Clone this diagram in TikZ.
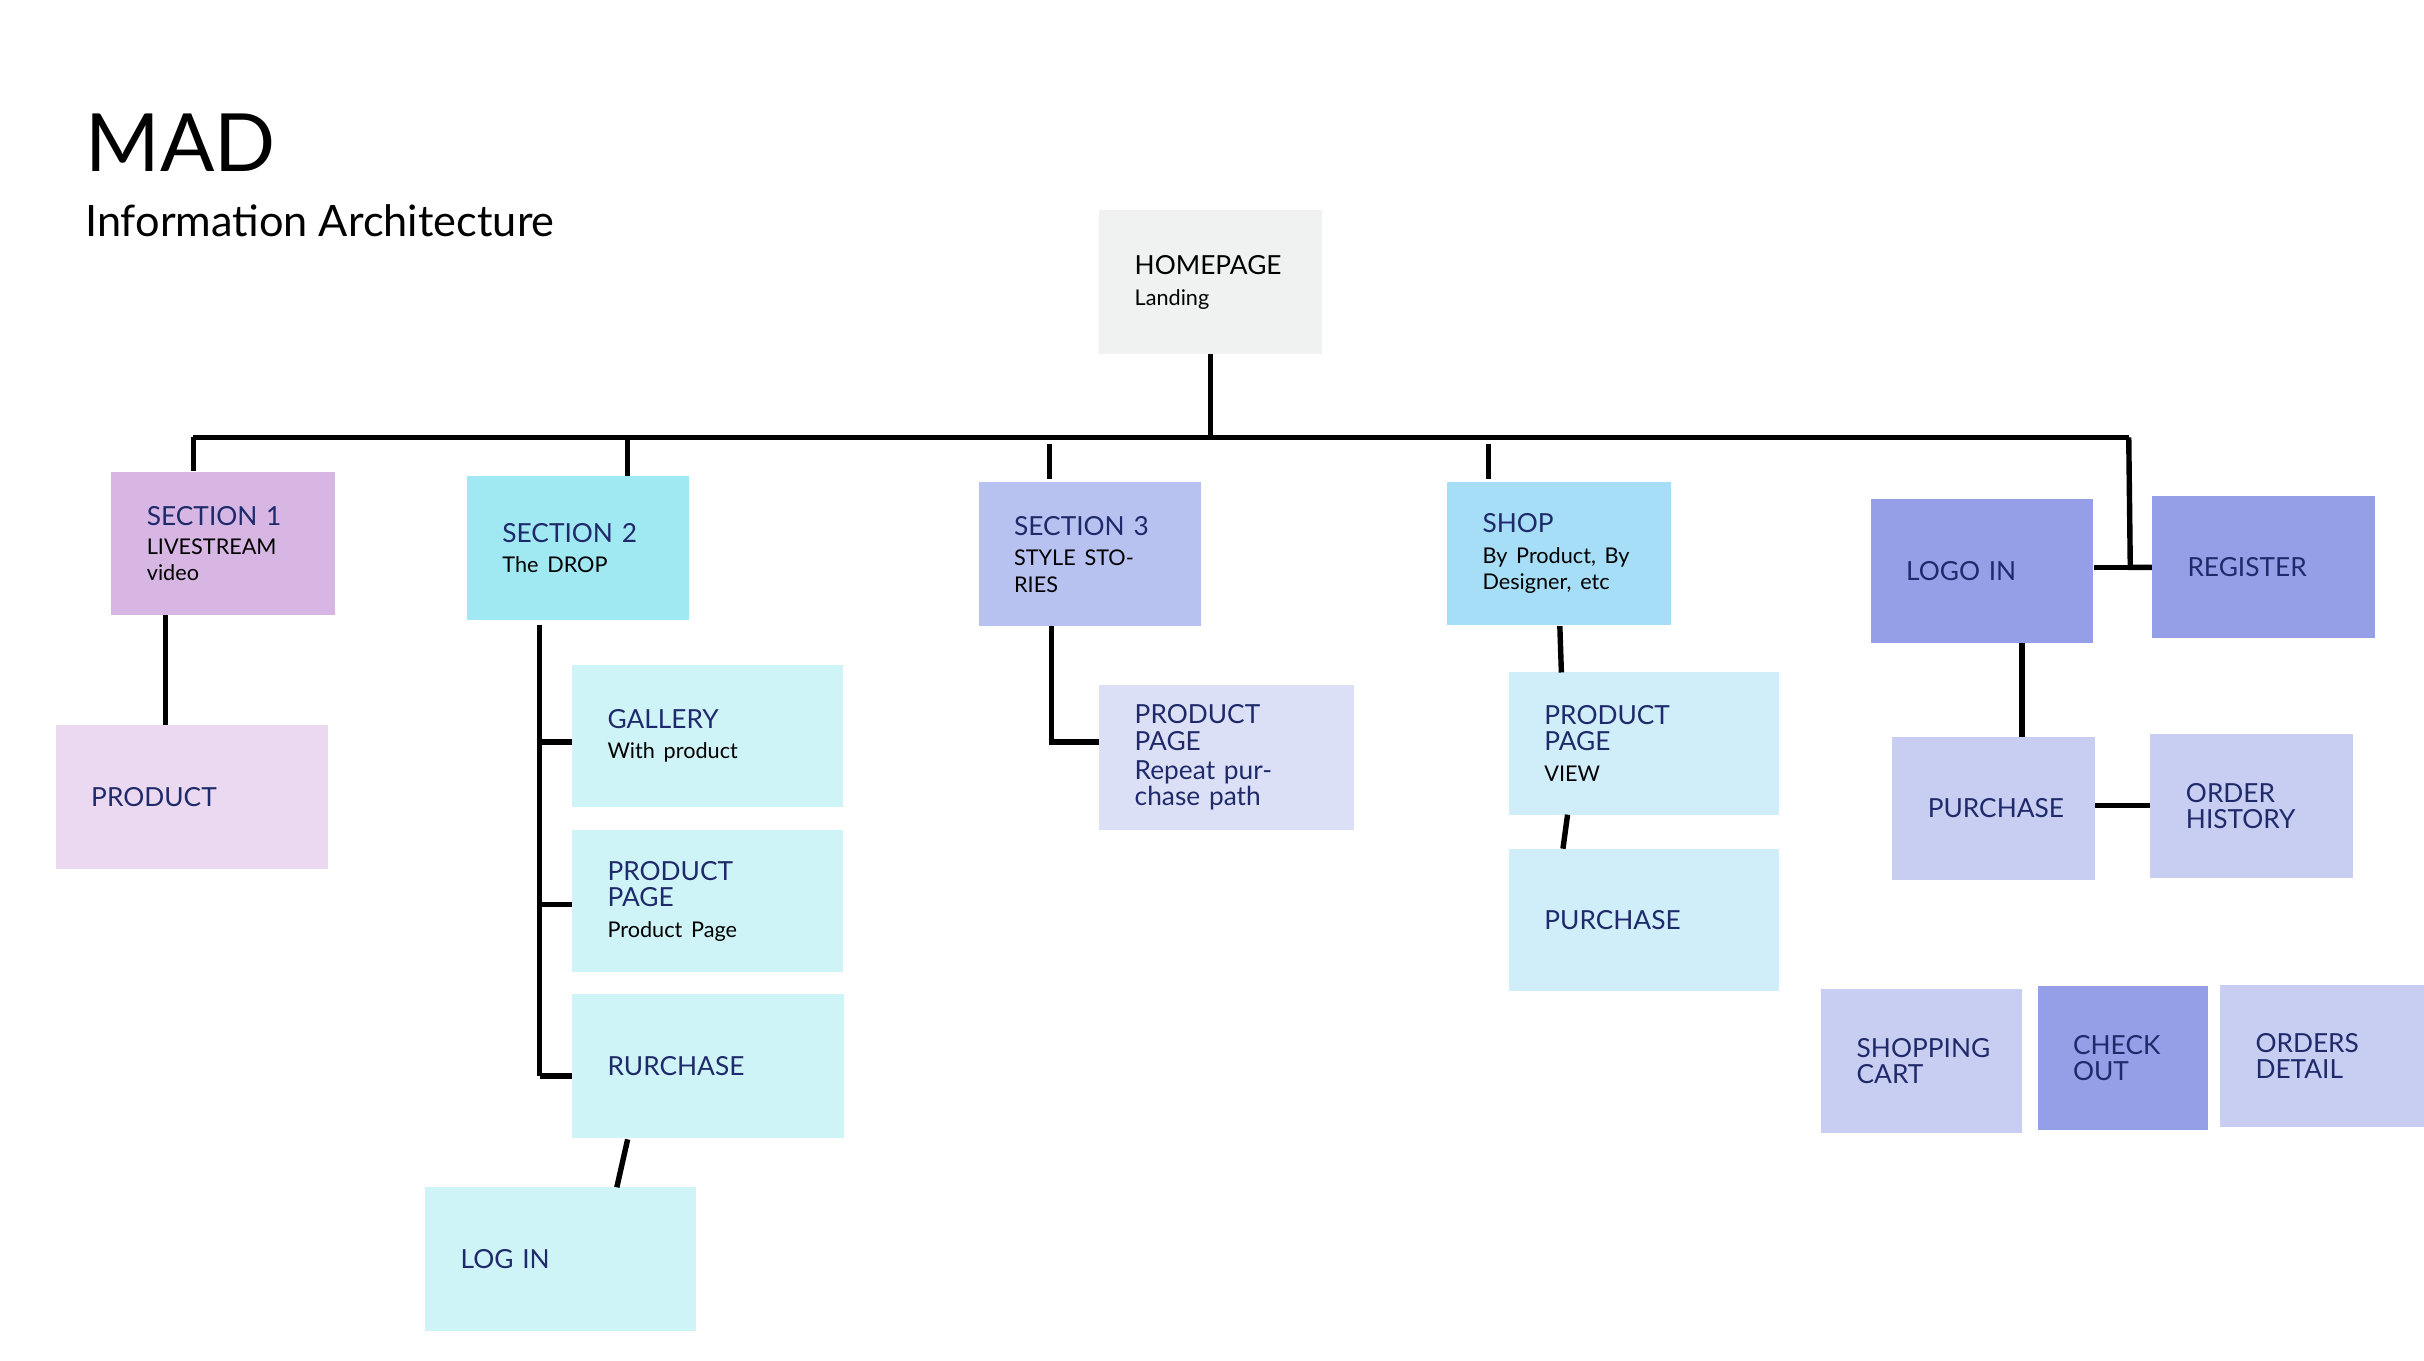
\documentclass[tikz,border=0pt]{standalone}
\usepackage{fontspec}
\setmainfont{Lato}
\definecolor{navy}{HTML}{1F2A6B}
\definecolor{cHome}{HTML}{F0F1F1}
\definecolor{cS1}{HTML}{D8B6E4}
\definecolor{cS1l}{HTML}{EAD9F0}
\definecolor{cS2}{HTML}{A0E8F2}
\definecolor{cS2l}{HTML}{CFF4F8}
\definecolor{cS3}{HTML}{B8C2F0}
\definecolor{cS3l}{HTML}{DCE0F6}
\definecolor{cSh}{HTML}{A6DEF7}
\definecolor{cShl}{HTML}{D0EDFA}
\definecolor{cLg}{HTML}{949FE8}
\definecolor{cLgl}{HTML}{C8CDF2}
\newcommand\bx[7]{\node[box,fill=#6,minimum width={(#4-#2)*1pt},minimum height={(#5-#3)*1pt},text width={(#4-#2-46)*1pt}] (#1) at ({(#2+#4)/2},{-(#3+#5)/2}) {#7};}
\newcommand\myhd[1]{{\fontsize{17}{17}\selectfont #1}}
\newcommand\mysb[1]{{\fontsize{14}{17}\selectfont #1}}
\begin{document}
\begin{tikzpicture}[x=1pt,y=1pt,
  box/.style={rectangle,inner sep=0pt,align=left,text=navy,font=\fontsize{17}{17}\selectfont},
  ln/.style={line width=3.5pt,black}]
\useasboundingbox (0,0) rectangle (1568,-880);
\fill[white] (0,0) rectangle (1568,-880);
\node[anchor=west,inner sep=0pt,font=\fontsize{52}{52}\selectfont] (title) at (55,-92) {MAD};
\node[anchor=west,inner sep=0pt,font=\fontsize{28}{28}\selectfont] (sub) at (55,-143) {Information Architecture};
\bx{home}{711}{136}{855}{229}{cHome}{\color{black}\myhd{HOMEPAGE}\\[3pt]\mysb{Landing}}
\bx{s1}{72}{305}{217}{398}{cS1}{\myhd{SECTION 1}\\[2pt]\color{black}\mysb{LIVESTREAM\\video}}
\bx{p1}{36}{469}{212}{562}{cS1l}{PRODUCT}
\bx{s2}{302}{308}{446}{401}{cS2}{\myhd{SECTION 2}\\[2pt]\color{black}\mysb{The DROP}}
\bx{gal}{370}{430}{545}{522}{cS2l}{GALLERY\\[3pt]\color{black}\mysb{With product}}
\bx{pp2}{370}{537}{545}{629}{cS2l}{PRODUCT PAGE\\[3pt]\color{black}\mysb{Product Page}}
\bx{pu2}{370}{643}{546}{736}{cS2l}{RURCHASE}
\bx{lg2}{275}{768}{450}{861}{cS2l}{LOG IN}
\bx{s3}{633}{312}{777}{405}{cS3}{SECTION 3\\[3pt]\color{black}\mysb{STYLE STORIES}}
\bx{pp3}{711}{443}{876}{537}{cS3l}{PRODUCT\\PAGE\\[2pt]{\fontsize{17}{20}\selectfont Repeat purchase path}}
\bx{shop}{936}{312}{1081}{404}{cSh}{SHOP\\[3pt]\color{black}\mysb{By Product, By Designer, etc}}
\bx{ppv}{976}{435}{1151}{527}{cShl}{PRODUCT PAGE\\[3pt]\color{black}\mysb{VIEW}}
\bx{pus}{976}{549}{1151}{641}{cShl}{PURCHASE}
\bx{login}{1210}{323}{1354}{416}{cLg}{LOGO IN}
\bx{reg}{1392}{321}{1536}{413}{cLg}{REGISTER}
\bx{pul}{1224}{477}{1355}{569}{cLgl}{PURCHASE}
\bx{oh}{1391}{475}{1522}{568}{cLgl}{ORDER\\HISTORY}
\bx{cart}{1178}{640}{1308}{733}{cLgl}{SHOPPING\\CART}
\bx{co}{1318}{638}{1428}{731}{cLg}{CHECK\\OUT}
\bx{od}{1436}{637}{1568}{729}{cLgl}{ORDERS\\DETAIL}
\coordinate (bus) at (783,-283);
\coordinate (busL) at (125,-283);
\coordinate (busR) at (1377,-283);
\draw[ln] (home.south) -- (bus);
\draw[ln] (busL) -- (busR);
\draw[ln] (busL) -- (busL |- s1.north);
\draw[ln] (406,-283) -- (406,-308);
\draw[ln] (679,-287) -- (679,-310);
\draw[ln] (963,-287) -- (963,-310);
\draw[ln,line join=miter] (busR) -- (1378,-367) -- (reg.west |- 0,-367);
\draw[ln] (login.east |- 0,-367) -- (reg.west |- 0,-367);
\draw[ln] (107,-398) -- (107,-469);
\draw[ln] (349,-404) -- (349,-696);
\draw[ln] (349,-480) -- (gal.west |- 0,-480);
\draw[ln] (349,-585) -- (pp2.west |- 0,-585);
\draw[ln] (349,-696) -- (pu2.west |- 0,-696);
\draw[ln] (406,-737) -- (399,-768);
\draw[ln,line join=miter] (680,-405) -- (680,-480) -- (pp3.west |- 0,-480);
\draw[ln] (1009,-405) -- (1010,-435);
\draw[ln] (1014,-527) -- (1011,-549);
\draw[ln] (1308,-416) -- (1308,-477);
\draw[ln] (pul.east |- 0,-521) -- (oh.west |- 0,-521);
\end{tikzpicture}
\end{document}
